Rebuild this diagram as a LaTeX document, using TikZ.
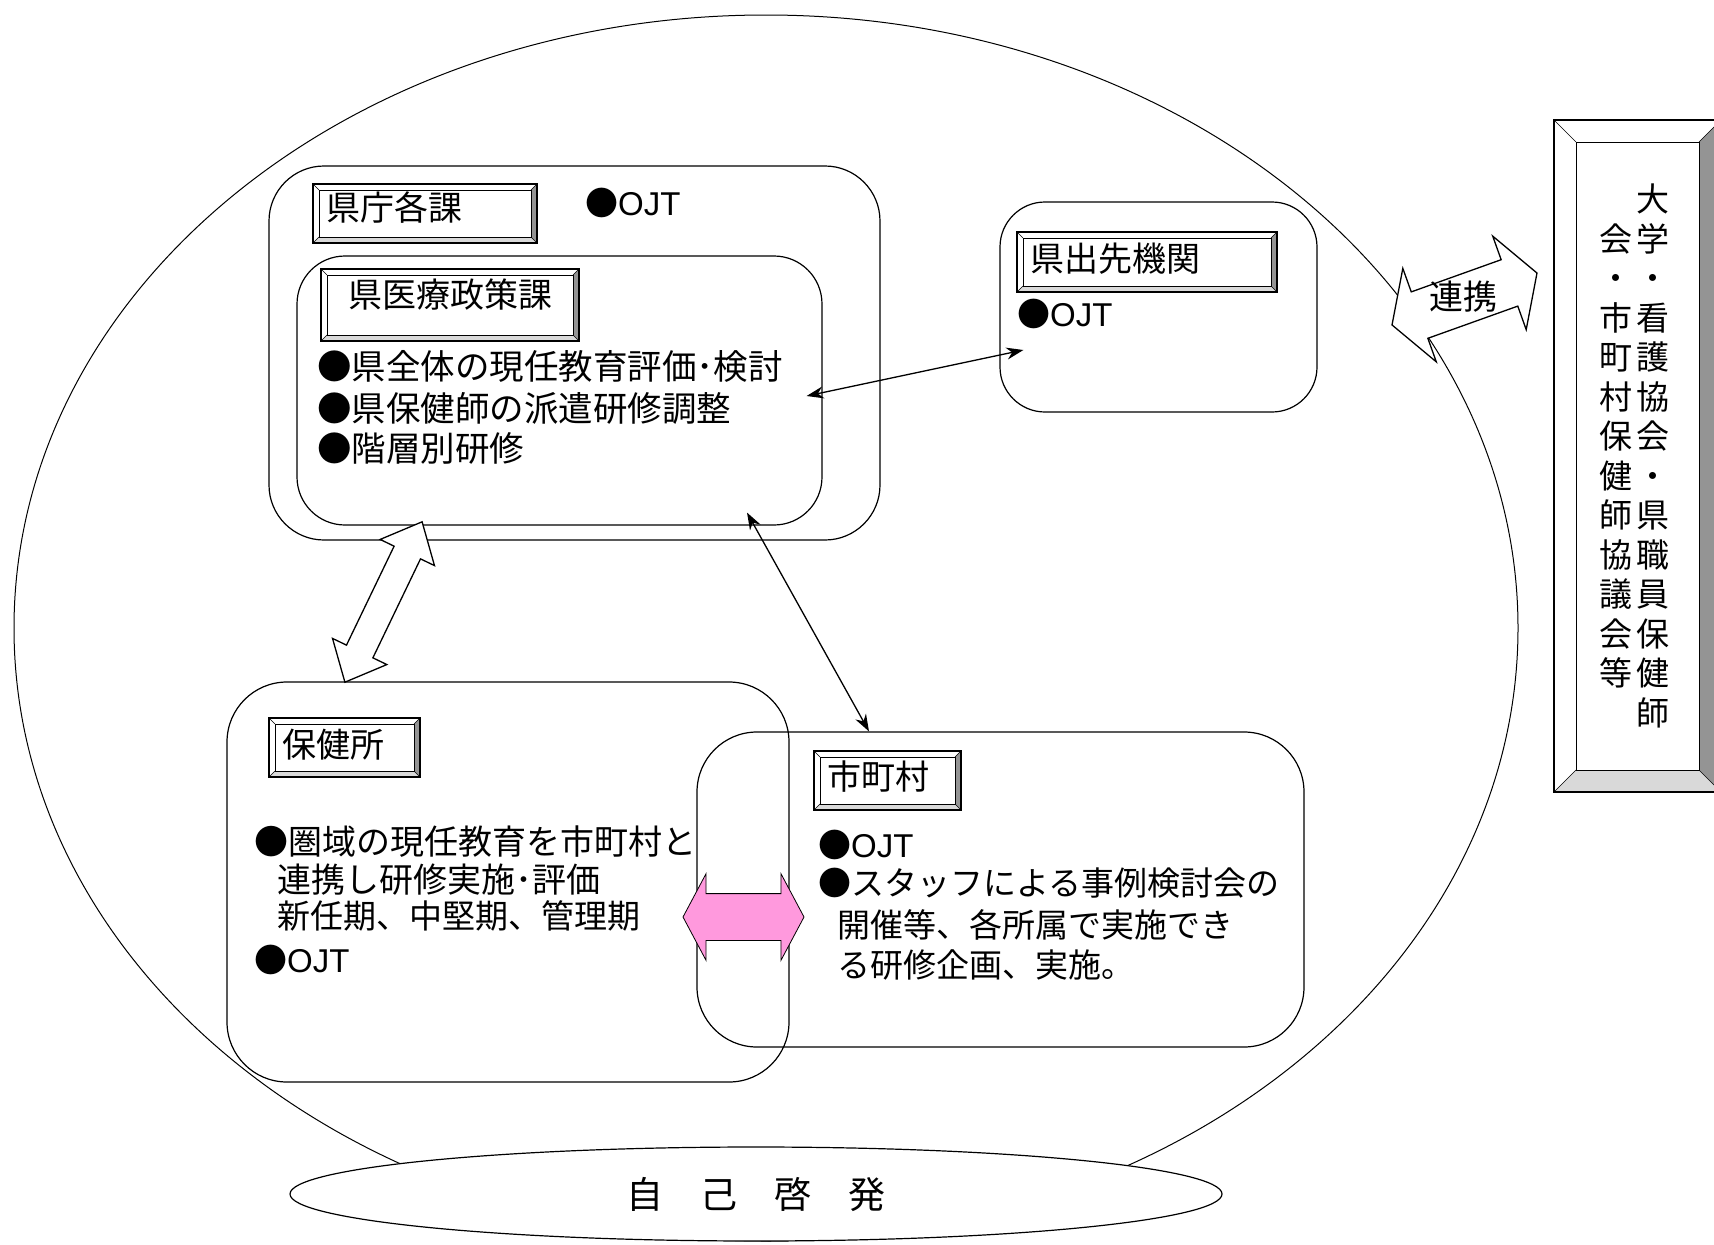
\documentclass[tikz,border=0pt]{standalone}
\usepackage{fontspec}
\setmainfont{Noto Sans CJK JP}
\newfontfamily\arialfont{Liberation Sans}
\usetikzlibrary{shapes.geometric, shapes.arrows, arrows.meta}

\definecolor{bevdark}{gray}{0.58}
\definecolor{bevlight}{gray}{0.85}
\definecolor{renpink}{RGB}{255,153,221}

\newcommand{\jtxt}{\fontsize{33}{33}\selectfont}
\newcommand{\bigtxt}{\fontsize{34.5}{34.5}\selectfont}
\newcommand{\hdfont}{\fontsize{34}{34}\selectfont}
\newcommand{\ojt}{●{\arialfont OJT}}

\tikzset{bevel inset/.store in=\bevw, bevel inset=6pt}
\tikzstyle{area} = [rectangle, rounded corners=55pt, draw=black, line width=1.2pt, inner sep=0pt]
\tikzstyle{bevel} = [rectangle, draw=black, line width=1.5pt, inner sep=0pt, path picture={
  \path (path picture bounding box.north west) coordinate (bnw)
        (path picture bounding box.north east) coordinate (bne)
        (path picture bounding box.south west) coordinate (bsw)
        (path picture bounding box.south east) coordinate (bse);
  \fill[bevdark] (bne) -- (bse) -- ([shift={(-\bevw,\bevw)}]bse) -- ([shift={(-\bevw,-\bevw)}]bne) -- cycle;
  \fill[bevlight] (bsw) -- (bse) -- ([shift={(-\bevw,\bevw)}]bse) -- ([shift={(\bevw,\bevw)}]bsw) -- cycle;
  \draw[line width=0.9pt] ([shift={(\bevw,-\bevw)}]bnw) rectangle ([shift={(-\bevw,\bevw)}]bse);
  \draw[line width=0.6pt] (bnw) -- ([shift={(\bevw,-\bevw)}]bnw) (bne) -- ([shift={(-\bevw,-\bevw)}]bne)
     (bsw) -- ([shift={(\bevw,\bevw)}]bsw) (bse) -- ([shift={(-\bevw,\bevw)}]bse);
}]
\tikzstyle{txt} = [anchor=west, inner sep=0pt, font=\jtxt]
\tikzstyle{hdtxt} = [anchor=west, inner sep=0pt, font=\hdfont]
\tikzstyle{vcol} = [inner sep=0pt, align=center, font=\fontsize{33}{39.5}\selectfont]
\tikzstyle{hollow} = [double arrow, draw=black, line width=1.3pt, fill=white, inner sep=0pt]
\tikzstyle{arrow} = [line width=1.3pt, {Stealth[length=17pt,width=12pt]}-{Stealth[length=17pt,width=12pt]}]

\begin{document}
\begin{tikzpicture}[x=1pt, y=-1pt]
\useasboundingbox (0,0) rectangle (1714,1245);
\fill[white] (0,0) rectangle (1714,1245);

% Field and self development
\draw[line width=1pt] (766,628) ellipse [x radius=752pt, y radius=613pt];
\node (jiko) [ellipse, draw, fill=white, line width=1.2pt, minimum width=932pt, minimum height=94pt, inner sep=0pt, font=\fontsize{37}{37}\selectfont] at (756,1194) {自　己　啓　発};

% Areas
\node (kencho) [area, minimum width=611pt, minimum height=374pt] at (574.5,353) {};
\node (iryo) [area, rounded corners=48pt, minimum width=525pt, minimum height=269pt] at (559.5,390.5) {};
\node (dessaki) [area, rounded corners=45pt, minimum width=317pt, minimum height=210pt] at (1158.5,307) {};
\node (hokenjo) [area, rounded corners=60pt, minimum width=562pt, minimum height=400pt] at (508,882) {};
\node (shicho) [area, rounded corners=60pt, minimum width=607pt, minimum height=315pt] at (1000.5,889.5) {};

% Headers
\node (hdkencho) [bevel, minimum width=224pt, minimum height=59pt] at (425,213.5) {};
\node (hdiryo) [bevel, minimum width=258pt, minimum height=72pt] at (450,305) {};
\node (hddessaki) [bevel, minimum width=260pt, minimum height=60pt] at (1147,262) {};
\node (hdhokenjo) [bevel, minimum width=151pt, minimum height=59pt] at (344.5,747.5) {};
\node (hdshicho) [bevel, minimum width=147pt, minimum height=59pt] at (887.5,780.5) {};
\node (partner) [bevel, bevel inset=22pt, minimum width=167pt, minimum height=672pt] at (1637.5,456) {};

\node (tkencho) [hdtxt] at (326,208) {県庁各課};
\node (tiryo) [hdtxt] at (348,295) {県医療政策課};
\node (tdessaki) [hdtxt] at (1030,259) {県出先機関};
\node (thokenjo) [hdtxt] at (282,745) {保健所};
\node (tshicho) [hdtxt] at (827,777) {市町村};

% Texts
\node (ojtkencho) [txt] at (585,203) {\ojt};
\node (iryo1) [txt, font=\bigtxt] at (317,366) {●県全体の現任教育評価･検討};
\node (iryo2) [txt, font=\bigtxt] at (317,408) {●県保健師の派遣研修調整};
\node (iryo3) [txt, font=\bigtxt] at (317,448) {●階層別研修};
\node (ojtdessaki) [txt] at (1017,314) {\ojt};
\node (hoken1) [txt, font=\hdfont] at (254,842) {●圏域の現任教育を市町村と};
\node (hoken2) [txt, font=\hdfont] at (277,880) {連携し研修実施･評価};
\node (hoken3) [txt] at (277,916) {新任期、中堅期、管理期};
\node (ojthoken) [txt] at (254,960) {\ojt};
\node (ojtshicho) [txt] at (818,845) {\ojt};
\node (shicho1) [txt] at (818,883) {●スタッフによる事例検討会の};
\node (shicho2) [txt] at (837,925) {開催等、各所属で実施でき};
\node (shicho3) [txt] at (837,965) {る研修企画、実施。};

\node (colright) [vcol] at (1653,456) {大\\学\\・\\看\\護\\協\\会\\・\\県\\職\\員\\保\\健\\師};
\node (colleft) [vcol] at (1616,456) {会\\・\\市\\町\\村\\保\\健\\師\\協\\議\\会\\等};

% Block arrows
\node (kenho) [hollow, rotate=64.3, inner ysep=14pt, minimum height=178pt, double arrow head extend=15.5pt, double arrow tip angle=83] at (383.5,602) {};
\node (renkei) [hollow, rotate=19.7, inner ysep=24pt, minimum height=154pt, double arrow head extend=25pt, double arrow tip angle=119] at (1464.5,299) {};
\node (trenkei) [inner sep=0pt, font=\hdfont] at (1463,297) {連携};
\node (pink) [double arrow, draw=black, line width=0.8pt, fill=renpink, inner sep=0pt, inner ysep=23pt, minimum height=121pt, double arrow head extend=20pt, double arrow tip angle=124] at (743.5,917) {};

% Arrows
\draw [arrow] ([shift={(-16pt,-5.5pt)}]iryo.east) -- ([shift={(24pt,-43pt)}]dessaki.west);
\draw [arrow] ([shift={(187.5pt,13pt)}]iryo.south) -- ([shift={(-131.5pt,0pt)}]shicho.north);

\end{tikzpicture}
\end{document}
